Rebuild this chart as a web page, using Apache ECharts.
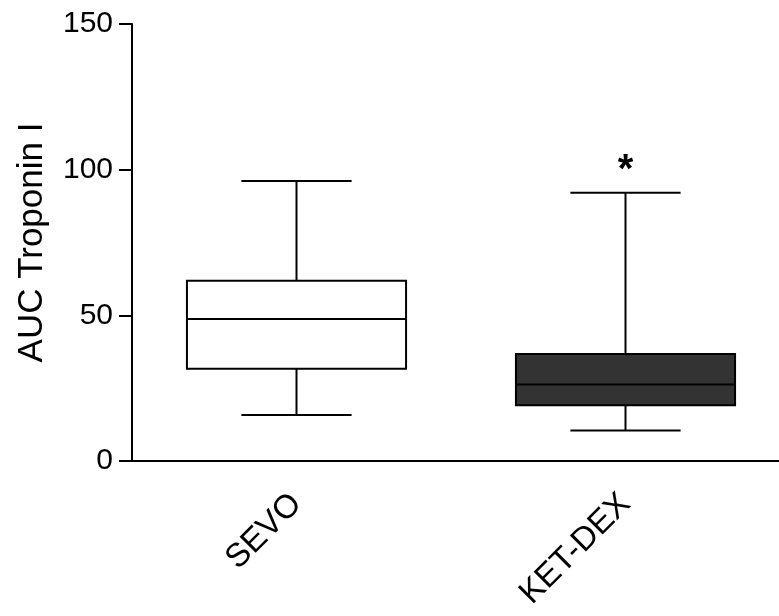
<!DOCTYPE html>
<html>
<head>
<meta charset="utf-8">
<script src="https://cdn.jsdelivr.net/npm/echarts@6/dist/echarts.min.js"></script>
<style>html,body{margin:0;padding:0;background:#fff}#c{width:779px;height:616px}</style>
</head>
<body>
<div id="c"></div>
<script>
// Data
const categories = ['SEVO', 'KET-DEX'];
const whiskerMin = [15.8, 10.5];
const q1 = [31.7, 19.1];
const median = [48.7, 26.3];
const q3 = [61.9, 36.7];
const whiskerMax = [96.1, 92.1];
const boxFill = ['#ffffff', '#333333'];
const significance = ['', '*'];
const yTicks = { min: 0, max: 150, interval: 50 };

const FONT = "'Liberation Sans', Arial, sans-serif";
const seriesData = categories.map((c, i) => [i, whiskerMin[i], q1[i], median[i], q3[i], whiskerMax[i]]);

const chart = echarts.init(document.getElementById('c'), null, { renderer: 'canvas' });
chart.setOption({
  animation: false,
  backgroundColor: '#fff',
  grid: { left: 132, width: 658, top: 24, height: 437, containLabel: false, outerBoundsMode: 'none' },
  xAxis: {
    type: 'category',
    data: categories,
    boundaryGap: true,
    axisLine: { lineStyle: { color: '#000', width: 2 } },
    axisTick: { alignWithLabel: true, length: 13, lineStyle: { color: '#000', width: 2 } },
    axisLabel: { rotate: 45, margin: 38, color: '#000', fontSize: 33, fontFamily: FONT },
    splitLine: { show: false }
  },
  yAxis: {
    type: 'value',
    min: yTicks.min, max: yTicks.max, interval: yTicks.interval,
    name: 'AUC Troponin I',
    nameLocation: 'middle',
    nameGap: 82,
    nameRotate: 90,
    nameTextStyle: { color: '#000', fontSize: 35, fontFamily: FONT },
    axisLine: { show: true, lineStyle: { color: '#000', width: 2 } },
    axisTick: { show: true, length: 13, lineStyle: { color: '#000', width: 2 } },
    axisLabel: { margin: 19, color: '#000', fontSize: 30, fontFamily: FONT },
    splitLine: { show: false }
  },
  series: [{
    type: 'custom',
    data: seriesData,
    encode: { x: 0, y: [1, 2, 3, 4, 5] },
    renderItem: function (params, api) {
      const i = api.value(0);
      const x = api.coord([i, 0])[0];
      const yMin = api.coord([i, api.value(1)])[1];
      const yQ1 = api.coord([i, api.value(2)])[1];
      const yMed = api.coord([i, api.value(3)])[1];
      const yQ3 = api.coord([i, api.value(4)])[1];
      const yMax = api.coord([i, api.value(5)])[1];
      const band = api.size([1, 0])[0];
      const bw = band * 0.666, cw = band * 0.335;
      const ls = { stroke: '#000', lineWidth: 2 };
      const children = [
        { type: 'line', shape: { x1: x, y1: yMax, x2: x, y2: yQ3 }, style: ls },
        { type: 'line', shape: { x1: x, y1: yQ1, x2: x, y2: yMin }, style: ls },
        { type: 'line', shape: { x1: x - cw / 2, y1: yMax, x2: x + cw / 2, y2: yMax }, style: ls },
        { type: 'line', shape: { x1: x - cw / 2, y1: yMin, x2: x + cw / 2, y2: yMin }, style: ls },
        { type: 'rect', shape: { x: x - bw / 2, y: yQ3, width: bw, height: yQ1 - yQ3 }, style: { fill: boxFill[i], stroke: '#000', lineWidth: 2 } },
        { type: 'line', shape: { x1: x - bw / 2, y1: yMed, x2: x + bw / 2, y2: yMed }, style: ls }
      ];
      if (significance[i]) {
        children.push({ type: 'text', style: { text: significance[i], x: x, y: yMax - 22, align: 'center', verticalAlign: 'middle', fill: '#000', font: 'bold 40px ' + FONT } });
      }
      return { type: 'group', children: children };
    }
  }]
});
</script>
</body>
</html>
